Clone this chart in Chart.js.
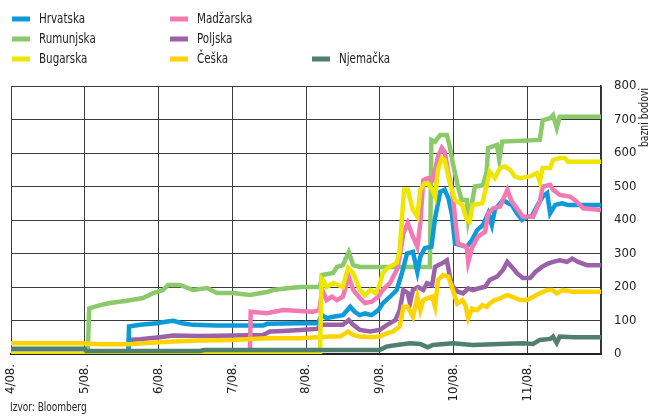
<!DOCTYPE html>
<html>
<head>
<meta charset="utf-8">
<script src="https://cdn.jsdelivr.net/npm/chart.js@4.4.1/dist/chart.umd.min.js"></script>
<style>
  html, body { margin: 0; padding: 0; background: #fff; }
  #wrap { position: relative; width: 655px; height: 416px; }
</style>
</head>
<body>
<div id="wrap"><canvas id="graph"></canvas></div>
<script>
// x = months since 1 April 2008, y = basis points
const monthLabels = ['4/08.', '5/08.', '6/08.', '7/08.', '8/08.', '9/08.', '10/08.', '11/08.'];
const yTicks = [0, 100, 200, 300, 400, 500, 600, 700, 800];

const hrvatska = [
  [0, 0], [1.59, 0], [1.60, 82], [1.75, 87], [1.98, 92], [2.12, 97], [2.20, 99], [2.32, 92], [2.47, 87],
  [2.79, 85], [3.42, 85], [3.47, 90], [3.92, 92], [4.16, 92], [4.22, 116], [4.28, 107], [4.37, 111],
  [4.50, 116], [4.60, 141], [4.66, 126], [4.73, 116], [4.80, 121], [4.89, 116], [4.98, 131], [5.04, 151],
  [5.14, 171], [5.23, 191], [5.30, 241], [5.37, 300], [5.45, 305], [5.51, 245], [5.55, 290], [5.61, 316],
  [5.70, 320], [5.75, 405], [5.82, 484], [5.88, 490], [5.93, 466], [5.98, 415], [6.02, 330], [6.18, 320],
  [6.25, 340], [6.32, 370], [6.40, 385], [6.47, 420], [6.52, 385], [6.56, 430], [6.67, 460], [6.74, 450],
  [6.79, 445], [6.86, 420], [6.93, 400], [7.00, 410], [7.06, 410], [7.13, 440], [7.21, 470], [7.27, 480],
  [7.31, 420], [7.38, 445], [7.47, 450], [7.55, 445], [7.67, 445], [8.0, 445]
];
const rumunjska = [
  [0, 0], [1.04, 0], [1.06, 136], [1.21, 146], [1.34, 152], [1.55, 158], [1.79, 167], [1.93, 182],
  [2.06, 191], [2.13, 206], [2.29, 206], [2.47, 191], [2.66, 197], [2.79, 182], [3.01, 182], [3.24, 176],
  [3.47, 185], [3.55, 191], [3.78, 197], [3.92, 200], [4.19, 200], [4.22, 236], [4.37, 242], [4.42, 260],
  [4.50, 265], [4.58, 304], [4.64, 265], [4.73, 260], [5.68, 260], [5.70, 639], [5.75, 634], [5.82, 654],
  [5.91, 654], [5.95, 619], [5.99, 570], [6.06, 500], [6.11, 460], [6.18, 460], [6.20, 400], [6.25, 450],
  [6.29, 500], [6.40, 504], [6.45, 544], [6.47, 615], [6.59, 624], [6.62, 580], [6.66, 634], [7.17, 639],
  [7.21, 698], [7.31, 704], [7.35, 713], [7.40, 675], [7.44, 708], [8.0, 708]
];
const bugarska = [
  [0, 0], [4.19, 0], [4.21, 226], [4.23, 221], [4.28, 200], [4.37, 212], [4.50, 200], [4.57, 257],
  [4.64, 242], [4.73, 191], [4.80, 176], [4.87, 191], [4.94, 182], [5.00, 206], [5.04, 242], [5.11, 257],
  [5.23, 272], [5.27, 310], [5.30, 400], [5.33, 490], [5.38, 490], [5.45, 430], [5.51, 410], [5.55, 490],
  [5.61, 510], [5.65, 510], [5.71, 490], [5.75, 470], [5.79, 550], [5.84, 585], [5.88, 579], [5.95, 510],
  [6.02, 460], [6.12, 445], [6.18, 400], [6.22, 395], [6.26, 445], [6.39, 450], [6.45, 504], [6.49, 544],
  [6.56, 525], [6.63, 555], [6.70, 560], [6.77, 549], [6.83, 530], [6.90, 525], [7.04, 530], [7.13, 540],
  [7.17, 514], [7.21, 555], [7.31, 555], [7.35, 579], [7.44, 585], [7.51, 585], [7.55, 574], [8.0, 574]
];
const madjarska = [
  [0, 0], [3.24, 0], [3.25, 126], [3.47, 122], [3.69, 131], [4.09, 126], [4.18, 131], [4.22, 191],
  [4.28, 161], [4.35, 171], [4.42, 161], [4.50, 171], [4.58, 231], [4.64, 191], [4.73, 167], [4.80, 152],
  [4.89, 156], [4.98, 171], [5.04, 191], [5.14, 212], [5.23, 251], [5.27, 290], [5.32, 360], [5.38, 391],
  [5.45, 350], [5.51, 320], [5.55, 391], [5.59, 519], [5.65, 525], [5.72, 519], [5.79, 589], [5.84, 615],
  [5.88, 604], [5.93, 540], [5.98, 490], [6.02, 410], [6.06, 330], [6.18, 320], [6.20, 275], [6.25, 316],
  [6.33, 350], [6.43, 365], [6.47, 420], [6.54, 435], [6.63, 440], [6.73, 490], [6.79, 455], [6.86, 435],
  [6.94, 410], [7.08, 410], [7.17, 455], [7.21, 500], [7.31, 505], [7.35, 490], [7.44, 475], [7.58, 470],
  [7.67, 455], [7.76, 435], [8.0, 430]
];
const poljska = [
  [0, 0], [1.59, 0], [1.60, 42], [1.75, 44], [2.02, 50], [2.20, 55], [2.56, 54], [3.01, 55], [3.42, 57],
  [3.51, 67], [3.69, 69], [3.92, 72], [4.15, 75], [4.22, 87], [4.50, 87], [4.58, 101], [4.64, 87],
  [4.73, 72], [4.87, 67], [5.00, 72], [5.10, 87], [5.21, 101], [5.27, 131], [5.32, 191], [5.38, 182],
  [5.41, 151], [5.45, 191], [5.52, 200], [5.59, 191], [5.64, 211], [5.71, 206], [5.75, 260], [5.79, 265],
  [5.84, 270], [5.91, 280], [5.95, 231], [5.99, 200], [6.06, 186], [6.13, 181], [6.20, 196], [6.26, 191],
  [6.36, 197], [6.43, 201], [6.49, 221], [6.59, 231], [6.67, 251], [6.73, 275], [6.79, 260], [6.86, 241],
  [6.94, 227], [7.04, 227], [7.11, 245], [7.20, 260], [7.28, 270], [7.35, 275], [7.44, 280], [7.54, 275],
  [7.61, 285], [7.69, 275], [7.81, 265], [8.0, 265]
];
const ceska = [
  [0, 32], [0.94, 32], [1.21, 29], [1.59, 29], [1.79, 32], [2.02, 35], [2.20, 37], [2.56, 40], [3.01, 42],
  [3.47, 47], [3.92, 47], [4.15, 50], [4.33, 52], [4.46, 52], [4.57, 67], [4.64, 57], [4.73, 52],
  [4.87, 50], [5.00, 52], [5.10, 62], [5.18, 67], [5.27, 82], [5.32, 141], [5.38, 141], [5.45, 111],
  [5.51, 171], [5.55, 131], [5.59, 161], [5.64, 166], [5.71, 171], [5.75, 141], [5.79, 221], [5.86, 236],
  [5.93, 231], [5.99, 191], [6.05, 151], [6.12, 161], [6.16, 146], [6.20, 107], [6.25, 136], [6.32, 131],
  [6.39, 146], [6.45, 141], [6.49, 151], [6.56, 161], [6.63, 166], [6.73, 176], [6.79, 171], [6.90, 161],
  [7.00, 161], [7.08, 171], [7.17, 181], [7.27, 191], [7.34, 191], [7.40, 181], [7.48, 191], [7.62, 186],
  [8.0, 186]
];
const njemacka = [
  [0, 16], [1.0, 16], [1.02, 9], [2.56, 9], [2.62, 12], [5.0, 12], [5.09, 22], [5.23, 27], [5.41, 32],
  [5.55, 30], [5.65, 20], [5.72, 27], [5.99, 32], [6.26, 27], [6.63, 30], [6.94, 32], [7.08, 30],
  [7.17, 42], [7.31, 45], [7.35, 52], [7.40, 33], [7.44, 52], [7.62, 50], [8.0, 50]
];

const FONT = '"Liberation Sans Narrow", "DejaVu Sans Condensed", "Roboto Condensed", "Arial Narrow", sans-serif';
Chart.defaults.font.family = FONT;
Chart.defaults.color = '#222';

// label, data, colour, legend column, legend row, draw order (lower = on top)
const series = [
  ['Hrvatska', hrvatska, '#0d9ad8', 0, 0, 5],
  ['Rumunjska', rumunjska, '#8cc96a', 0, 1, 7],
  ['Bugarska', bugarska, '#eee600', 0, 2, 2],
  ['Madžarska', madjarska, '#f279b2', 1, 0, 4],
  ['Poljska', poljska, '#9b62a8', 1, 1, 6],
  ['Češka', ceska, '#ffd300', 1, 2, 3],
  ['Njemačka', njemacka, '#4f7f6e', 2, 2, 1]
];

const legendX = [12, 170, 312];
const legendY = [19, 39, 59];

// squeezed text, the source uses a condensed face
function narrowText(ctx, text, x, y, squeeze) {
  ctx.save();
  ctx.translate(x, y);
  ctx.scale(squeeze, 1);
  ctx.fillText(text, 0, 0);
  ctx.restore();
}

const extras = {
  id: 'extras',
  afterDraw(chart) {
    const ctx = chart.ctx;
    ctx.save();
    ctx.font = '14px ' + FONT;
    ctx.textBaseline = 'middle';
    ctx.textAlign = 'left';
    series.forEach(s => {
      const x = legendX[s[3]], y = legendY[s[4]];
      ctx.fillStyle = s[2];
      ctx.fillRect(x, y - 2.5, 18, 5);
      ctx.fillStyle = '#222';
      narrowText(ctx, s[0], x + 27, y, 0.82);
    });
    ctx.font = '13px ' + FONT;
    narrowText(ctx, 'Izvor: Bloomberg', 10, 408, 0.77);
    ctx.translate(645, 88);
    ctx.rotate(-Math.PI / 2);
    ctx.textAlign = 'right';
    ctx.font = '12px ' + FONT;
    narrowText(ctx, 'bazni bodovi', 0, 0, 0.86);
    ctx.restore();
  }
};

const chart = new Chart(document.getElementById('graph'), {
  type: 'line',
  data: {
    datasets: series.map(s => ({
      label: s[0],
      data: s[1].map(p => ({ x: p[0], y: p[1] })),
      borderColor: s[2],
      backgroundColor: s[2],
      borderWidth: 4.5,
      pointRadius: 0,
      tension: 0,
      clip: 0,
      order: s[5]
    }))
  },
  options: {
    responsive: true,
    maintainAspectRatio: false,
    animation: false,
    layout: { padding: { left: 11, right: 0, top: 86, bottom: 0 } },
    plugins: { legend: { display: false }, tooltip: { enabled: false } },
    scales: {
      x: {
        type: 'linear',
        min: 0,
        max: 8,
        afterFit(scale) { scale.height = 62; },
        grid: { color: '#3c3c3c', lineWidth: 1, drawTicks: false },
        border: { display: true, color: '#222', width: 2 },
        ticks: {
          stepSize: 1,
          autoSkip: false,
          maxRotation: 90,
          minRotation: 90,
          padding: 10,
          font: { size: 13 },
          callback: v => monthLabels[v] || ''
        }
      },
      y: {
        position: 'right',
        min: 0,
        max: 800,
        afterFit(scale) { scale.width = 54; },
        afterBuildTicks(scale) { scale.ticks = yTicks.map(v => ({ value: v })); },
        grid: { color: '#3c3c3c', lineWidth: 1, drawTicks: false },
        border: { display: true, color: '#333', width: 1.5 },
        ticks: { padding: 13, font: { size: 13 } }
      }
    }
  },
  plugins: [extras]
});
</script>
</body>
</html>
